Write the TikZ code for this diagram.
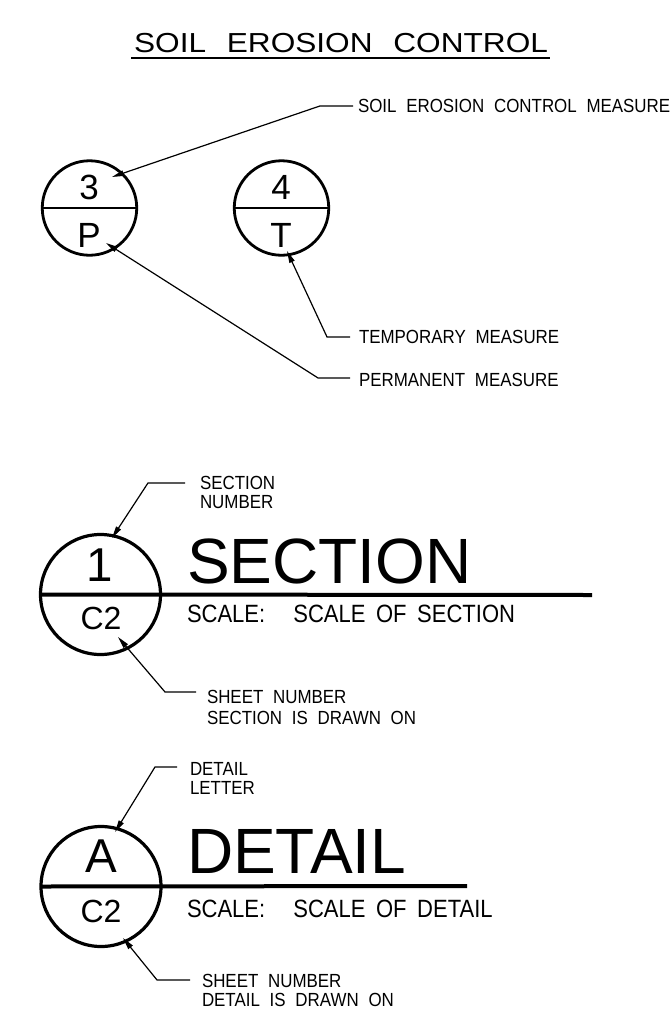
\documentclass[tikz,border=0pt]{standalone}
\usepackage{fontspec}
\setmainfont{Liberation Sans}
\usepackage{graphicx}
\usetikzlibrary{arrows.meta}
\newcommand\cadsx[1]{\scalebox{0.89}[1]{#1}}
\newcommand\cadsc[1]{\scalebox{0.88}[1]{#1}}
\newcommand\cadtt[1]{\scalebox{1.15}[1]{#1}}
\newcommand\titlefnt{\fontsize{27.5}{29}\selectfont\spaceskip 18pt\relax}
\newcommand\smallfnt{\fontsize{19}{20}\selectfont\spaceskip 11pt\relax}
\newcommand\scalefnt{\fontsize{25}{26}\selectfont\spaceskip 12pt\relax}
\begin{document}
\begin{tikzpicture}[x=1pt,y=-1pt,
  every node/.style={inner sep=0pt, outer sep=0pt},
  ring/.style={circle, draw, line width=2.8pt, inner sep=0pt},
  bigring/.style={circle, draw, line width=3.2pt, inner sep=0pt, minimum size=120pt},
  leader/.style={line width=1.2pt, -{Triangle[length=12pt,width=5.5pt]}},
  smalltxt/.style={font=\smallfnt, anchor=base west},
  scaletxt/.style={font=\scalefnt, anchor=base west},
  bigtxt/.style={font=\fontsize{64}{66}\selectfont, anchor=base west},
  midnum/.style={font=\fontsize{35}{36}\selectfont},
  bignum/.style={font=\fontsize{47.5}{48}\selectfont},
  sheetnum/.style={font=\fontsize{32}{33}\selectfont}
]
\useasboundingbox (0,0) rectangle (671,1017);

% title
\node[font=\titlefnt, anchor=base east] (title) at (548,52) {\cadtt{SOIL EROSION CONTROL}};
\draw[line width=2.4pt] ([xshift=-3pt,yshift=-6pt]title.base west) -- ([xshift=2pt,yshift=-6pt]title.base east);

% top symbols
\node[ring, minimum size=94.5pt] (cA) at (89.5,208) {};
\node[ring, minimum size=94.5pt] (cB) at (281.5,208) {};
\draw[line width=2pt] (cA.west) -- (cA.east);
\draw[line width=2pt] (cB.west) -- (cB.east);
\node[midnum] (n3) at (89,187.5) {3};
\node[midnum] (nP) at (89,235) {P};
\node[midnum] (n4) at (281,187.5) {4};
\node[midnum] (nT) at (281,235) {T};

\node[smalltxt] (l1) at (358,112.5) {\cadsx{SOIL EROSION CONTROL MEASURE}};
\node[smalltxt] (l2) at (359,343.5) {\cadsx{TEMPORARY MEASURE}};
\node[smalltxt] (l3) at (359,386.5) {\cadsx{PERMANENT MEASURE}};

\coordinate (t1) at (112,177);
\coordinate (t2) at (287,251);
\coordinate (t3) at (106,243);
\draw[leader] ([xshift=-5pt]l1.west) -- ++(-33,0) -- (t1);
\draw[leader] ([xshift=-9pt]l2.west) -- ++(-23,0) -- (t2);
\draw[leader] ([xshift=-9pt,yshift=2pt]l3.west) -- ++(-32,0) -- (t3);

% section
\node[bigring] (cS) at (100.5,594.5) {};
\coordinate (sEnd) at (592,595);
\draw[line width=4pt] (cS.west) -- (sEnd);
\node[bignum] (n1) at (100,565) {1};
\node[sheetnum] (nC2s) at (101,618.5) {C2};
\node[bigtxt] (secT) at (187,583) {SECTION};
\node[scaletxt] (secS) at (187,622) {\cadsc{SCALE:\hspace{20pt} SCALE OF SECTION}};

\node[smalltxt] (l4a) at (200,489.5) {\cadsx{SECTION}};
\node[smalltxt] (l4b) at (200,508.5) {\cadsx{NUMBER}};
\node[smalltxt] (l5a) at (207,703.5) {\cadsx{SHEET NUMBER}};
\node[smalltxt] (l5b) at (207,724.5) {\cadsx{SECTION IS DRAWN ON}};
\coordinate (t4) at (112,538);
\coordinate (t5) at (118,637);
\draw[leader] ([xshift=-15pt]l4a.west) -- ++(-37,0) -- (t4);
\draw[leader] ([xshift=-11pt,yshift=5pt]l5a.west) -- ++(-31,0) -- (t5);

% detail
\node[bigring] (cD) at (101,886.5) {};
\coordinate (dEnd) at (467,886);
\draw[line width=4pt] (cD.west) -- (dEnd);
\node[bignum] (nA) at (101,856) {A};
\node[sheetnum] (nC2d) at (101,911.5) {C2};
\node[bigtxt] (detT) at (187,873) {DETAIL};
\node[scaletxt] (detS) at (187,917) {\cadsc{SCALE:\hspace{20pt} SCALE OF DETAIL}};

\node[smalltxt] (l6a) at (190,775.5) {\cadsx{DETAIL}};
\node[smalltxt] (l6b) at (190,794.5) {\cadsx{LETTER}};
\node[smalltxt] (l7a) at (202,987.5) {\cadsx{SHEET NUMBER}};
\node[smalltxt] (l7b) at (202,1006.5) {\cadsx{DETAIL IS DRAWN ON}};
\coordinate (t6) at (115,832);
\coordinate (t7) at (123,938);
\draw[leader] ([xshift=-13pt,yshift=2pt]l6a.west) -- ++(-22,0) -- (t6);
\draw[leader] ([xshift=-12pt,yshift=1pt]l7a.west) -- ++(-33,0) -- (t7);
\end{tikzpicture}
\end{document}
